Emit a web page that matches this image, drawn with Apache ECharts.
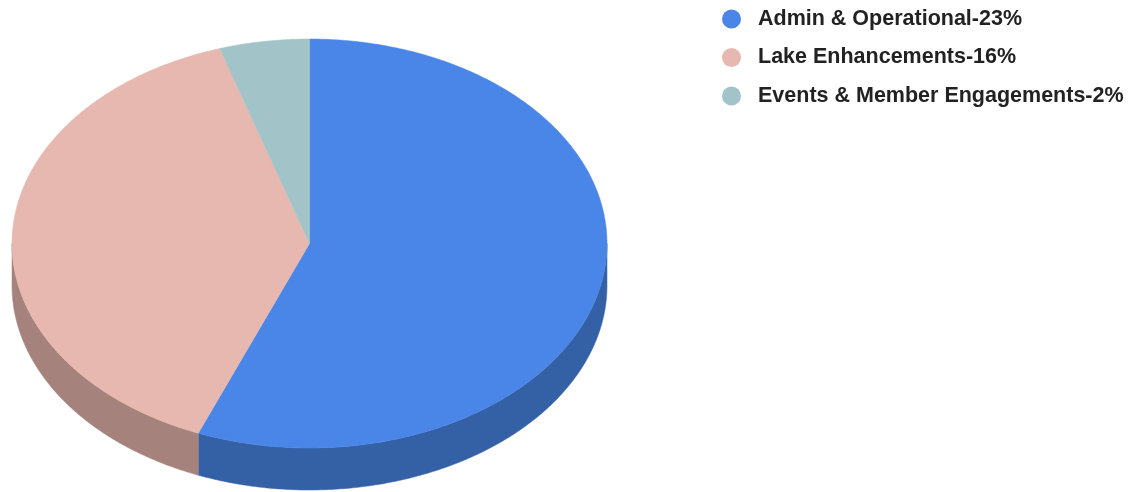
<!DOCTYPE html>
<html><head><meta charset="utf-8">
<script src="https://cdn.jsdelivr.net/npm/echarts@6/dist/echarts.min.js"></script>
<style>html,body{margin:0;padding:0;background:#fff}#c{width:1135px;height:492px}</style>
</head><body><div id="c"></div>
<script>
const categories = ['Admin & Operational-23%', 'Lake Enhancements-16%', 'Events & Member Engagements-2%'];
const values = [23, 16, 2];
const topColors = ['#4a86e8', '#e6b8af', '#a2c4c9'];
const sideColors = ['#3460a6', '#a5837c', '#76898c'];

const geo = { cx: 309.5, cy: 243.5, rx: 297.5, ry: 204.5, depth: 42 };
const total = values.reduce((a, b) => a + b, 0);
const startAngles = [];
let acc = -Math.PI / 2;
values.forEach(v => { startAngles.push(acc); acc += v / total * Math.PI * 2; });

function pt(t, dy) { return [geo.cx + geo.rx * Math.cos(t), geo.cy + geo.ry * Math.sin(t) + (dy || 0)]; }
function arcPts(a, b, dy) {
  const n = Math.max(2, Math.ceil((b - a) / 0.01));
  const out = [];
  for (let i = 0; i <= n; i++) out.push(pt(a + (b - a) * i / n, dy));
  return out;
}

function makeRender(idx) {
  return function (params, api) {
    const a1 = startAngles[idx];
    const a2 = a1 + values[idx] / total * Math.PI * 2;
    const children = [];
    [[0, Math.PI], [2 * Math.PI, 3 * Math.PI], [-2 * Math.PI, -Math.PI]].forEach(r => {
      const s = Math.max(a1, r[0]), e = Math.min(a2, r[1]);
      if (e > s) {
        const topArc = arcPts(s, e, 0);
        const botArc = arcPts(s, e, geo.depth).reverse();
        children.push({
          type: 'polygon', z2: 1, silent: true,
          shape: { points: topArc.concat(botArc) },
          style: { fill: sideColors[idx], stroke: sideColors[idx], lineWidth: 0.5 }
        });
      }
    });
    const topPts = [[geo.cx, geo.cy]].concat(arcPts(a1, a2, 0));
    children.push({
      type: 'polygon', z2: 10, silent: true,
      shape: { points: topPts },
      style: { fill: topColors[idx], stroke: topColors[idx], lineWidth: 0.5 }
    });
    return { type: 'group', children: children };
  };
}

const chart = echarts.init(document.getElementById('c'), null, { renderer: 'canvas' });
chart.setOption({
  animation: false,
  backgroundColor: '#fff',
  legend: {
    orient: 'vertical', left: 717, top: 3,
    icon: 'circle', itemWidth: 43, itemHeight: 19, itemGap: 16.5,
    selectedMode: false,
    textStyle: { fontFamily: 'Arial, "Liberation Sans", sans-serif', fontWeight: 'bold', fontSize: 21.5, color: '#222', lineHeight: 22 },
    data: categories
  },
  series: categories.map((name, i) => ({
    type: 'custom', name: name, coordinateSystem: 'none',
    itemStyle: { color: topColors[i] },
    data: [[values[i]]],
    renderItem: makeRender(i)
  }))
});
</script></body></html>
